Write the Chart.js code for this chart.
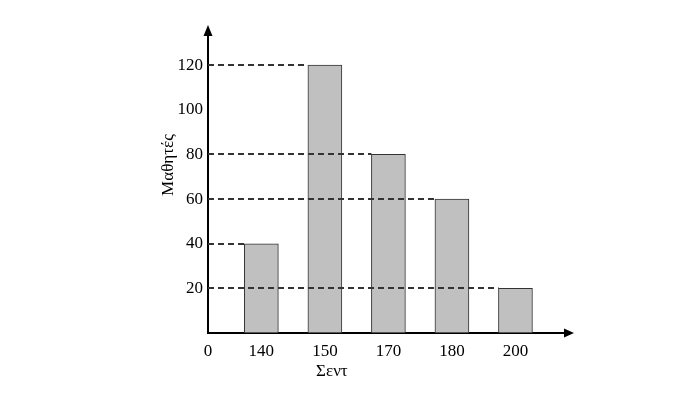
<!DOCTYPE html>
<html>
<head>
<meta charset="utf-8">
<script src="https://cdn.jsdelivr.net/npm/chart.js@4/dist/chart.umd.min.js"></script>
<style>
  body { margin: 0; background: #fff; }
  #wrap { width: 673px; height: 397px; position: relative; }
</style>
</head>
<body>
<div id="wrap"><canvas id="chart"></canvas></div>
<script>
const categories = ['140', '150', '170', '180', '200'];
const students = [40, 120, 80, 60, 20];
const yTicks = [20, 40, 60, 80, 100, 120];
const xTickLabels = ['0', ...categories];
const yTitle = 'Μαθητές';
const xTitle = 'Σεντ';

const FONT = "'Liberation Serif', 'Times New Roman', serif";
const X_MIN = 0.16, X_MAX = 5.78;

// axis arrows, dashed guide lines from y axis to each bar top, axis titles
const extras = {
  id: 'extras',
  afterDatasetsDraw(chart) {
    const ctx = chart.ctx;
    const area = chart.chartArea;
    const bars = chart.getDatasetMeta(0).data;

    ctx.save();
    ctx.strokeStyle = '#333';
    ctx.lineWidth = 2;
    ctx.setLineDash([6, 4]);
    bars.forEach(bar => {
      ctx.beginPath();
      ctx.moveTo(area.left, Math.round(bar.y));
      ctx.lineTo(bar.x - bar.width / 2, Math.round(bar.y));
      ctx.stroke();
    });
    ctx.setLineDash([]);

    ctx.fillStyle = '#000';
    // y arrow
    ctx.beginPath();
    ctx.moveTo(area.left - 4.5, area.top + 1);
    ctx.lineTo(area.left + 4.5, area.top + 1);
    ctx.lineTo(area.left, area.top - 10);
    ctx.closePath();
    ctx.fill();
    // x arrow
    ctx.beginPath();
    ctx.moveTo(area.right - 1, area.bottom - 4.5);
    ctx.lineTo(area.right - 1, area.bottom + 4.5);
    ctx.lineTo(area.right + 9, area.bottom);
    ctx.closePath();
    ctx.fill();

    ctx.font = '17px ' + FONT;
    ctx.textAlign = 'center';
    ctx.textBaseline = 'middle';
    ctx.fillText(xTitle, bars[1].x + 7, 372);
    ctx.translate(169, 165);
    ctx.rotate(-Math.PI / 2);
    ctx.fillText(yTitle, 0, 0);
    ctx.restore();
  }
};

new Chart(document.getElementById('chart'), {
  type: 'bar',
  data: {
    datasets: [{
      data: students.map((v, i) => ({ x: i + 1, y: v })),
      backgroundColor: '#c0c0c0',
      borderColor: '#333',
      borderWidth: 1,
      borderSkipped: false,
      barThickness: 34
    }]
  },
  options: {
    responsive: true,
    maintainAspectRatio: false,
    animation: false,
    layout: { padding: { left: 0, top: 35, right: 108, bottom: 0 } },
    plugins: { legend: { display: false }, tooltip: { enabled: false } },
    scales: {
      x: {
        type: 'linear',
        offset: false,
        min: X_MIN,
        max: X_MAX,
        grid: { display: false, drawTicks: false, offset: false },
        border: { color: '#000', width: 2 },
        afterBuildTicks: s => { s.ticks = [X_MIN, 1, 2, 3, 4, 5].map(v => ({ value: v })); },
        afterFit: s => { s.height = 64; },
        ticks: {
          padding: 8,
          color: '#000',
          font: { family: FONT, size: 17 },
          callback: (v, i) => xTickLabels[i]
        }
      },
      y: {
        min: 0,
        max: 133.5,
        grid: { display: false, drawTicks: false },
        border: { color: '#000', width: 2 },
        afterBuildTicks: s => { s.ticks = yTicks.map(v => ({ value: v })); },
        afterFit: s => { s.width = 208; },
        ticks: {
          padding: 5,
          color: '#000',
          font: { family: FONT, size: 17 }
        }
      }
    }
  },
  plugins: [extras]
});
</script>
</body>
</html>
